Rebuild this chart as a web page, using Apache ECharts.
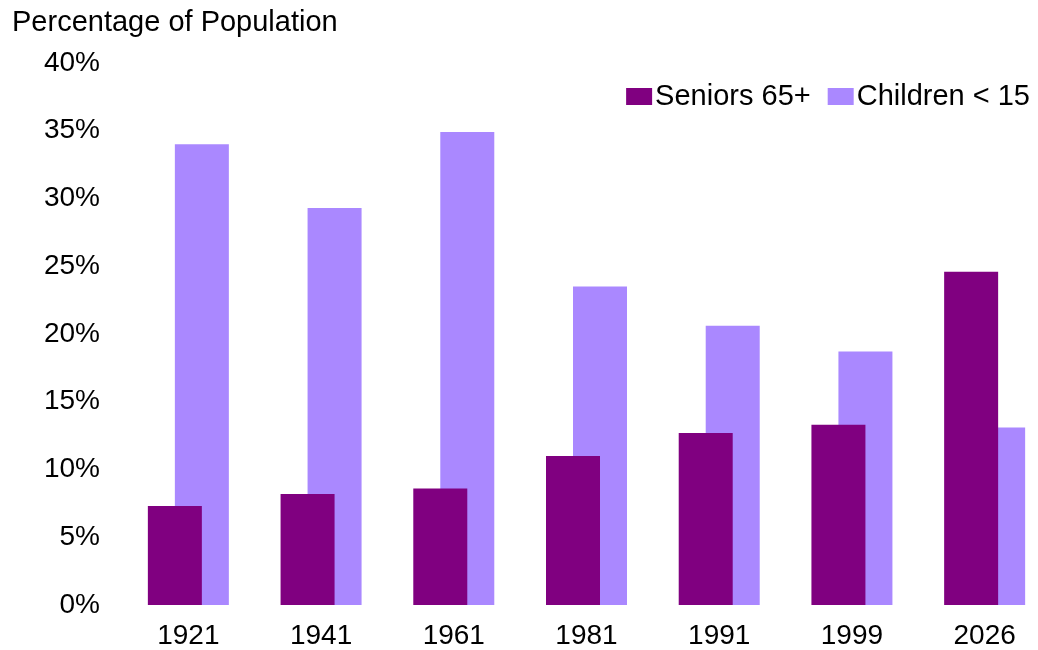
<!DOCTYPE html>
<html>
<head>
<meta charset="utf-8">
<script src="https://cdn.jsdelivr.net/npm/echarts@6/dist/echarts.min.js"></script>
<style>
  html, body { margin: 0; padding: 0; background: #fff; }
  #chart { width: 1038px; height: 650px; }
</style>
</head>
<body>
<div id="chart"></div>
<script>
// data
var years = ['1921', '1941', '1961', '1981', '1991', '1999', '2026'];
var seniors = [7.3, 8.2, 8.6, 11.0, 12.7, 13.3, 24.6];
var children = [34.0, 29.3, 34.9, 23.5, 20.6, 18.7, 13.1];
var yTicks = [0, 5, 10, 15, 20, 25, 30, 35, 40];

var font = 'Liberation Sans, Arial, sans-serif';
var chart = echarts.init(document.getElementById('chart'));

var option = {
  animation: false,
  textStyle: { fontFamily: font, color: '#000' },
  title: {
    text: 'Percentage of Population',
    left: 7,
    top: 3,
    textStyle: { fontFamily: font, fontSize: 29, fontWeight: 'normal', color: '#000' }
  },
  legend: {
    data: ['Seniors 65+', 'Children < 15'],
    right: 3,
    top: 77,
    itemWidth: 26,
    itemHeight: 17,
    itemGap: 17,
    icon: 'rect',
    textStyle: { fontFamily: font, fontSize: 29, color: '#000', padding: [0, 0, 0, -2] }
  },
  // plot runs a little past the right edge, like the original
  grid: { left: 122, width: 929, top: 63, bottom: 45, outerBoundsMode: 'none' },
  xAxis: {
    type: 'category',
    data: years,
    axisLine: { show: false },
    axisTick: { show: false },
    axisLabel: { fontFamily: font, fontSize: 28, color: '#000', margin: 17 }
  },
  yAxis: {
    type: 'value',
    min: yTicks[0],
    max: yTicks[yTicks.length - 1],
    interval: 5,
    splitLine: { show: false },
    axisLine: { show: false },
    axisTick: { show: false },
    axisLabel: {
      fontFamily: font, fontSize: 28, color: '#000', margin: 22,
      formatter: function (v) { return v + '%'; }
    }
  },
  series: [
    {
      name: 'Seniors 65+',
      type: 'bar',
      data: seniors,
      barWidth: 54,
      barGap: '-50%',
      z: 3,
      itemStyle: { color: '#800080' }
    },
    {
      name: 'Children < 15',
      type: 'bar',
      data: children,
      barWidth: 54,
      barGap: '-50%',
      z: 2,
      itemStyle: { color: '#AA88FF' }
    }
  ]
};

chart.setOption(option);
</script>
</body>
</html>
